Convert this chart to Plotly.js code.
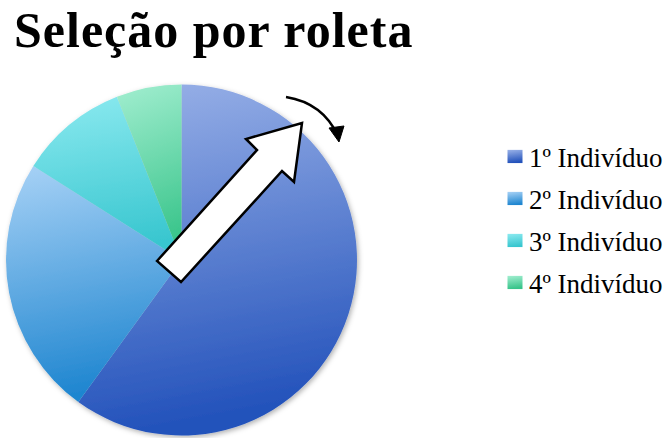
<!DOCTYPE html>
<html>
<head>
<meta charset="utf-8">
<script src="https://cdn.plot.ly/plotly-3.0.1.min.js"></script>
<style>
  html, body { margin: 0; padding: 0; background: #ffffff; }
  #chart { width: 665px; height: 438px; }
</style>
</head>
<body>
<div id="chart"></div>
<script>
// Data
const labels = ['1º Indivíduo', '2º Indivíduo', '3º Indivíduo', '4º Indivíduo'];
const values = [60, 24, 10, 6];
const baseColors = ['#5a80d2', '#58a8e6', '#55d6de', '#62d8aa'];
const gradTop = ['#9ab2e8', '#a8d2f6', '#8ceaf0', '#a2eed0'];
const gradBottom = ['#2352bb', '#1f86d0', '#38c6cf', '#38c48a'];

const W = 665, H = 438;
function px(x, y) { return [(x / W).toFixed(5), (1 - y / H).toFixed(5)]; }
function pathFromPx(cmds) {
  return cmds.map(c => {
    if (c.length === 1) return c[0];
    let out = c[0];
    for (let i = 1; i < c.length; i += 2) {
      const p = px(c[i], c[i + 1]);
      out += (i > 1 ? ' ' : '') + p[0] + ',' + p[1];
    }
    return out;
  }).join(' ');
}

// Pie geometry (pixel) -> domain
const cx = 181.5, cy = 260, r = 175.5;

const trace = {
  type: 'pie',
  labels: labels,
  values: values,
  sort: false,
  direction: 'clockwise',
  rotation: 0,
  textinfo: 'none',
  hoverinfo: 'label+percent',
  marker: { colors: baseColors, line: { width: 0 } },
  domain: { x: [(cx - r) / W, (cx + r) / W], y: [1 - (cy + r) / H, 1 - (cy - r) / H] },
  showlegend: true
};

// Block arrow (decoration)
const arrowPath = pathFromPx([
  ['M', 157, 261], ['L', 257, 150], ['L', 246, 139], ['L', 302, 123],
  ['L', 294, 182], ['L', 282, 171], ['L', 181, 282], ['Z']
]);
// Curved arrow (decoration)
const arcPath = pathFromPx([['M', 286, 97], ['Q', 323, 103, 338, 136]]);
const headPath = pathFromPx([['M', 329, 128], ['L', 339, 142], ['L', 344, 126], ['Z']]);

const layout = {
  width: W, height: H,
  margin: { l: 0, r: 0, t: 0, b: 0 },
  paper_bgcolor: '#ffffff',
  title: {
    text: '<b>Seleção por roleta</b>',
    font: { family: 'Liberation Serif, serif', size: 50, color: '#000000' },
    xref: 'paper', yref: 'container',
    x: 14 / W, xanchor: 'left',
    y: 1 - 29 / H, yanchor: 'middle'
  },
  legend: {
    x: 484 / W, xanchor: 'left',
    y: 1 - 221 / H, yanchor: 'middle',
    font: { family: 'Liberation Serif, serif', size: 27, color: '#000000' },
    bgcolor: 'rgba(0,0,0,0)',
    borderwidth: 0,
    itemclick: false
  },
  shapes: [
    { type: 'path', xref: 'paper', yref: 'paper', path: arrowPath,
      fillcolor: '#ffffff', line: { color: '#000000', width: 2.5 }, layer: 'above' },
    { type: 'path', xref: 'paper', yref: 'paper', path: arcPath,
      line: { color: '#000000', width: 2.5 }, layer: 'above' },
    { type: 'path', xref: 'paper', yref: 'paper', path: headPath,
      fillcolor: '#000000', line: { color: '#000000', width: 1 }, layer: 'above' }
  ]
};

function parseTranslate(el) {
  const t = el.getAttribute('transform') || '';
  const m = t.match(/translate\(\s*([-\d.e]+)[ ,]+([-\d.e]+)\s*\)/);
  return m ? [parseFloat(m[1]), parseFloat(m[2])] : [0, 0];
}

Plotly.newPlot('chart', [trace], layout, { staticPlot: true, displayModeBar: false }).then(gd => {
  const svgNS = 'http://www.w3.org/2000/svg';
  const svg = gd.querySelector('svg.main-svg');
  let defs = svg.querySelector('defs');
  if (!defs) { defs = document.createElementNS(svgNS, 'defs'); svg.insertBefore(defs, svg.firstChild); }
  for (let i = 0; i < labels.length; i++) {
    const g = document.createElementNS(svgNS, 'linearGradient');
    g.setAttribute('id', 'sliceGrad' + i);
    g.setAttribute('x1', '0'); g.setAttribute('y1', '0');
    g.setAttribute('x2', '0.15'); g.setAttribute('y2', '1');
    const s1 = document.createElementNS(svgNS, 'stop');
    s1.setAttribute('offset', '0'); s1.setAttribute('stop-color', gradTop[i]);
    const s2 = document.createElementNS(svgNS, 'stop');
    s2.setAttribute('offset', '1'); s2.setAttribute('stop-color', gradBottom[i]);
    g.appendChild(s1); g.appendChild(s2);
    defs.appendChild(g);
  }
  const f = document.createElementNS(svgNS, 'filter');
  f.setAttribute('id', 'pieShadow');
  f.setAttribute('x', '-10%'); f.setAttribute('y', '-10%');
  f.setAttribute('width', '120%'); f.setAttribute('height', '120%');
  const ds = document.createElementNS(svgNS, 'feDropShadow');
  ds.setAttribute('dx', '1.5'); ds.setAttribute('dy', '2');
  ds.setAttribute('stdDeviation', '2.5');
  ds.setAttribute('flood-color', '#000'); ds.setAttribute('flood-opacity', '0.3');
  f.appendChild(ds);
  defs.appendChild(f);

  const slices = gd.querySelectorAll('.pielayer .slice path.surface');
  slices.forEach((p, i) => { p.style.fill = 'url(#sliceGrad' + i + ')'; });
  const pieG = gd.querySelector('.pielayer .trace');
  if (pieG) pieG.setAttribute('filter', 'url(#pieShadow)');

  // Title letter spacing (Cambria-like width)
  const titleText = gd.querySelector('.gtitle');
  if (titleText) titleText.style.letterSpacing = '1px';

  // Legend styling / spacing
  const leg = gd.querySelector('g.legend');
  if (leg) {
    const sb = leg.querySelector('.scrollbox');
    if (sb) sb.removeAttribute('clip-path');
    leg.removeAttribute('clip-path');
    const items = leg.querySelectorAll('g.traces');
    const base = items.length ? parseTranslate(items[0]) : [0, 0];
    items.forEach((it, i) => {
      it.setAttribute('transform', 'translate(' + base[0] + ',' + (base[1] + i * 42) + ')');
      const pts = it.querySelectorAll('.legendpoints path');
      pts.forEach(p => {
        p.style.fill = 'url(#sliceGrad' + i + ')';
        p.setAttribute('transform', 'translate(26,0) scale(1.25,1.1)');
      });
    });
    if (items.length) {
      const tr = items[0].querySelector('text.legendtext').getBoundingClientRect();
      const lt = parseTranslate(leg);
      const dx = 529 - tr.left;
      const dy = 158 - (tr.top + tr.bottom) / 2;
      leg.setAttribute('transform', 'translate(' + (lt[0] + dx) + ',' + (lt[1] + dy) + ')');
    }
  }
});
</script>
</body>
</html>
